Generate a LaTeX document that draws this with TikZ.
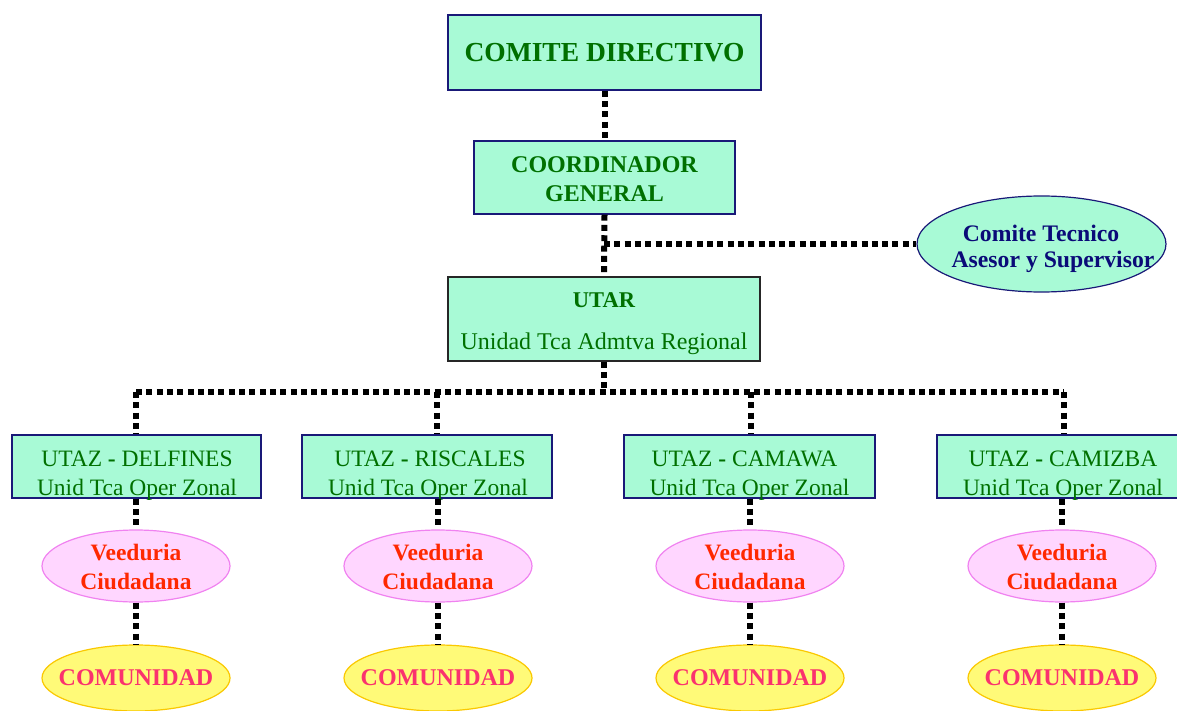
\documentclass[tikz,border=0pt]{standalone}
\usepackage{fontspec}
\setmainfont{Liberation Serif}
\usetikzlibrary{shapes.geometric}
\definecolor{boxfill}{RGB}{168,250,214}
\definecolor{boxdraw}{RGB}{25,25,120}
\definecolor{greentext}{RGB}{0,112,0}
\definecolor{navytext}{RGB}{10,10,120}
\definecolor{pinkfill}{RGB}{255,214,255}
\definecolor{pinkdraw}{RGB}{240,130,240}
\definecolor{redtext}{RGB}{255,40,0}
\definecolor{yellowfill}{RGB}{255,250,120}
\definecolor{yellowdraw}{RGB}{250,200,0}
\definecolor{comtext}{RGB}{250,50,110}
\tikzset{
  orgbox/.style={draw=boxdraw, fill=boxfill, line width=1.3pt, inner sep=0pt, rectangle},
  greenbold/.style={text=greentext, font=\fontsize{24}{29}\selectfont\bfseries, align=center, inner sep=0pt},
  greenreg/.style={text=greentext, font=\fontsize{23.5}{29}\selectfont, align=center, inner sep=0pt},
  aquaell/.style={draw=boxdraw, fill=boxfill, ellipse, line width=1.2pt, inner sep=0pt, minimum width=249pt, minimum height=96pt},
  navybold/.style={text=navytext, font=\fontsize{23.7}{29}\selectfont\bfseries, inner sep=0pt},
  veeell/.style={draw=pinkdraw, fill=pinkfill, ellipse, line width=1.2pt, inner sep=0pt, minimum width=188pt, minimum height=72pt},
  veetext/.style={text=redtext, font=\fontsize{23.5}{29}\selectfont\bfseries, align=center, inner sep=0pt},
  comell/.style={draw=yellowdraw, fill=yellowfill, ellipse, line width=1.2pt, inner sep=0pt, minimum width=188pt, minimum height=66pt},
  comtxt/.style={text=comtext, font=\fontsize{24}{29}\selectfont\bfseries, inner sep=0pt},
  dotline/.style={draw=black, line width=6pt, dash pattern=on 6pt off 4.3pt}
}
\begin{document}
\begin{tikzpicture}[x=1pt,y=-1pt]
\useasboundingbox (0,0) rectangle (1177,711);
\clip (0,0) rectangle (1177,711);

% top boxes
\node[orgbox, minimum width=313pt, minimum height=75pt] (dir) at (604.5,52.5) {};
\node[greenbold, font=\fontsize{27.5}{32}\selectfont\bfseries] (dirt) at (dir) {COMITE DIRECTIVO};

\node[orgbox, minimum width=261pt, minimum height=73pt] (coord) at (604.5,177.5) {};
\node[greenbold] (coordt) at (604.5,179.5) {COORDINADOR\\GENERAL};

\node[orgbox, minimum width=312pt, minimum height=84pt, draw=black!85] (utar) at (604,319) {};
\node[greenbold, font=\fontsize{22.5}{29}\selectfont\bfseries] (utart) at (604,300) {UTAR};
\node[greenreg, font=\fontsize{24}{29}\selectfont] (utars) at (604,344) {Unidad Tca Admtva Regional};

\node[aquaell] (ct) at (1041.5,244) {};
\node[navybold] (ct1) at (1041,233) {Comite Tecnico};
\node[navybold] (ct2) at (1053,262) {Asesor y Supervisor};

% zonal boxes
\node[orgbox, minimum width=249pt, minimum height=63pt] (u1) at (136.5,466.5) {};
\node[orgbox, minimum width=250pt, minimum height=63pt] (u2) at (427,466.5) {};
\node[orgbox, minimum width=251pt, minimum height=63pt] (u3) at (749.5,466.5) {};
\node[orgbox, minimum width=254pt, minimum height=63pt] (u4) at (1064,466.5) {};
\node[greenreg] (u1t) at (137,475.5) {UTAZ \textbf{-} DELFINES\\Unid Tca Oper Zonal};
\node[greenreg] (u2t) at (428,475.5) {\hspace*{4pt}UTAZ \textbf{-} RISCALES\\Unid Tca Oper Zonal};
\node[greenreg] (u3t) at (749.5,475.5) {UTAZ \textbf{-} CAMAWA\hspace*{10pt}\\Unid Tca Oper Zonal};
\node[greenreg] (u4t) at (1063,475.5) {UTAZ \textbf{-} CAMIZBA\\Unid Tca Oper Zonal};

% veeduria
\foreach \i/\x in {1/136,2/438,3/750,4/1062}{
  \node[veeell] (v\i) at (\x,566) {};
  \node[veetext] (v\i t) at (\x,566.5) {Veeduria\\Ciudadana};
  \node[comell] (c\i) at (\x,678) {};
  \node[comtxt] (c\i t) at (\x,678) {COMUNIDAD};
}

% connectors
\draw[dotline] (dir.south) -- (coord.north);
\draw[dotline] (coord.south) -- (utar.north);
\coordinate (j1) at (604,244);
\draw[dotline] (j1) -- (ct.west);
\coordinate (j2) at (604,392);
\draw[dotline] (utar.south) -- (j2);
\coordinate (h1) at (136,392);
\coordinate (h2) at (437,392);
\coordinate (h3) at (751,392);
\coordinate (h4) at (1064,392);
\draw[dotline] (h1) -- (h4);
\foreach \i in {1,2,3,4}{
  \draw[dotline] (h\i) -- (h\i |- u\i.north);
  \draw[dotline] (v\i.north |- u\i.south) -- (v\i.north);
  \draw[dotline] (v\i.south) -- (c\i.north);
}
\end{tikzpicture}
\end{document}
